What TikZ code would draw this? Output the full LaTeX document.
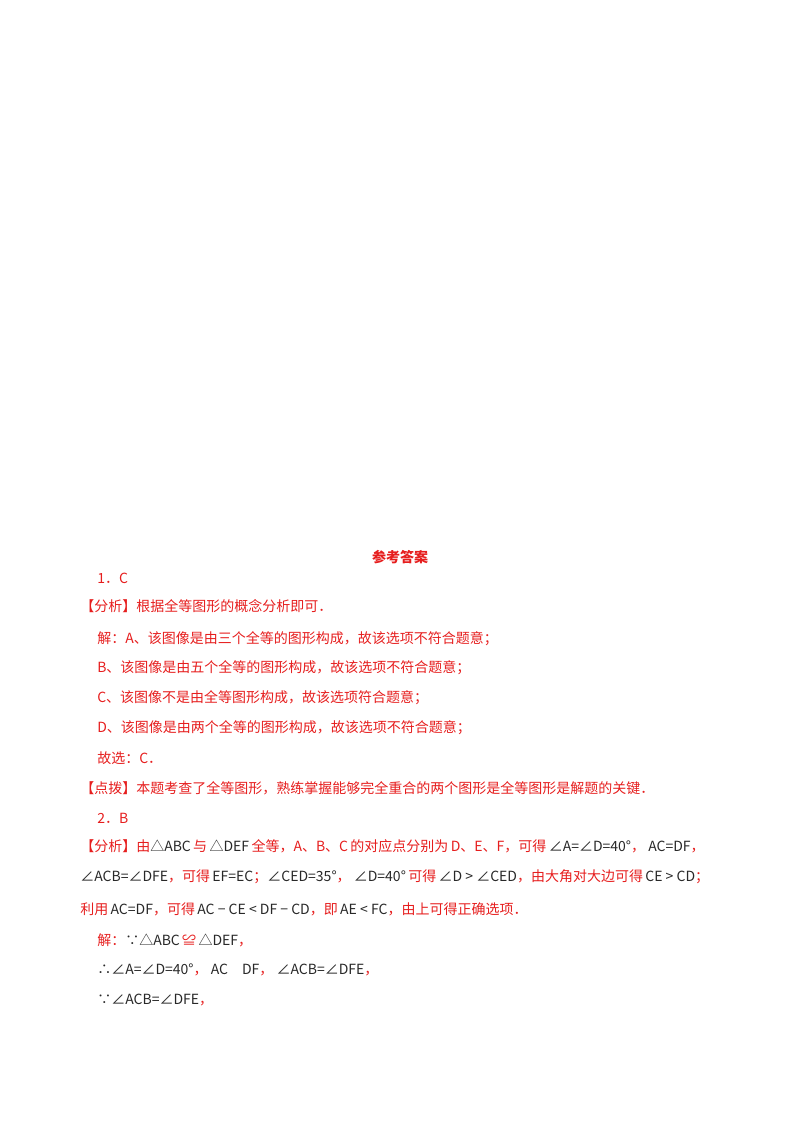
\documentclass[tikz,border=0pt]{standalone}
\usepackage{fontspec}
\setmainfont{Liberation Serif}
\newfontfamily\cjk{Noto Sans CJK SC}
\definecolor{rd}{RGB}{230,30,30}
\definecolor{mg}{RGB}{40,40,40}
\newcommand{\mm}[1]{{\color{mg}\itshape #1}}
\begin{document}
\begin{tikzpicture}[x=0.75pt,y=-0.75pt,
  t/.style={anchor=west,inner sep=0pt,text=rd,font=\cjk\fontsize{10.5pt}{12pt}\selectfont}]
\useasboundingbox (0,0) rectangle (800,1132);
\node[t,anchor=center,font=\cjk\bfseries\fontsize{10.5pt}{12pt}\selectfont] (title) at (400,557) {参考答案};
\node[t] (l1) at (97,578) {1．C};
\node[t] (l2) at (80,606) {【分析】根据全等图形的概念分析即可．};
\node[t] (l3) at (97,639) {解：A、该图像是由三个全等的图形构成，故该选项不符合题意；};
\node[t] (l4) at (97,668) {B、该图像是由五个全等的图形构成，故该选项不符合题意；};
\node[t] (l5) at (97,698) {C、该图像不是由全等图形构成，故该选项符合题意；};
\node[t] (l6) at (97,728) {D、该图像是由两个全等的图形构成，故该选项不符合题意；};
\node[t] (l7) at (97,758) {故选：C．};
\node[t] (l8) at (80,788) {【点拨】本题考查了全等图形，熟练掌握能够完全重合的两个图形是全等图形是解题的关键．};
\node[t] (l9) at (97,818) {2．B};
\node[t] (l10) at (80,846) {【分析】由\mm{△ABC}\,与\,\mm{△DEF}\,全等，\textit{A}、\textit{B}、\textit{C}\,的对应点分别为\,\textit{D}、\textit{E}、\textit{F}，可得\,\mm{∠A=∠D=40°}，\ \mm{AC=DF}，};
\node[t] (l11) at (80,877) {\mm{∠ACB=∠DFE}，可得\,\mm{EF=EC}；\mm{∠CED=35°}，\ \mm{∠D=40°}\,可得\,\mm{∠D > ∠CED}，由大角对大边可得\,\mm{CE > CD}；};
\node[t] (l12) at (80,909) {利用\,\mm{AC=DF}，可得\,\mm{AC − CE < DF − CD}，即\,\mm{AE < FC}，由上可得正确选项．};
\node[t] (l13) at (97,940) {解：\mm{∵△ABC}\,≌\,\mm{△DEF}，};
\node[t] (l14) at (97,970) {\mm{∴∠A=∠D=40°}，\ \mm{AC\quad DF}，\ \mm{∠ACB=∠DFE}，};
\node[t] (l15) at (97,1000) {\mm{∵∠ACB=∠DFE}，};
\end{tikzpicture}
\end{document}
